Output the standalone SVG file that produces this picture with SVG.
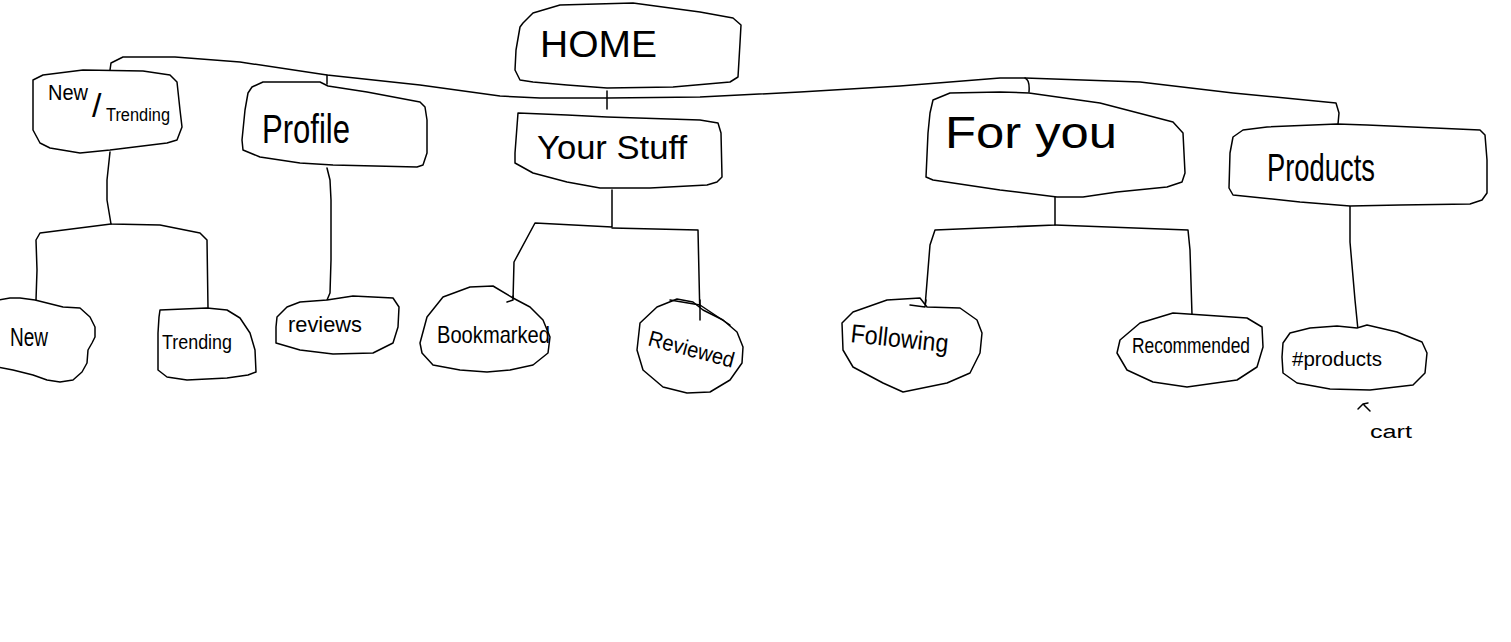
<svg xmlns="http://www.w3.org/2000/svg" width="1511" height="642" viewBox="0 0 1511 642">
<style>
.s{fill:none;stroke:#000;stroke-width:1.5;stroke-linejoin:round;stroke-linecap:round}
.b{fill:#fff;stroke:#000;stroke-width:1.5;stroke-linejoin:round}
.t{font-family:"Liberation Sans","DejaVu Sans",sans-serif;fill:#000;font-weight:normal}
</style>
<rect width="1511" height="642" fill="#fff"/>
<g id="connectors">
<path class="s" d="M110,70 L111,63 L123,57 L175,57 L240,62 L327,75 L420,85 L500,96 L540,98 L608,98 L700,97 L800,92 L900,86 L1000,78 L1025,78 Q1030,80 1029,92"/>
<path class="s" d="M1025,78 L1140,82 L1233,93 L1336,103 L1339,113 L1338,124"/>
<path class="s" d="M327,75 L327,84"/>
<path class="s" d="M607,91 L607,109"/>
<path class="s" d="M110,152 L107,180 L107,200 L111,224 L160,225 L200,233 L207,240 L208,308"/>
<path class="s" d="M111,224 L40,233 L36,240 L37,270 L36,300"/>
<path class="s" d="M327,168 L330,180 L331,200 L331,260 L330,293 L327,300"/>
<path class="s" d="M612,190 L612,227 L535,223 L514,262 L513,300"/>
<path class="s" d="M612,228 L698,230 L700,320"/>
<path class="s" d="M1055,197 L1055,225 L935,230 L930,245 L925,307"/>
<path class="s" d="M1055,225 L1188,230 L1190,250 L1192,315"/>
<path class="s" d="M1350,206 L1350,242 L1355,300 L1358,330"/>
</g>
<g id="home">
<path class="b" d="M523,23 L533,13 L560,5 L633,3 L700,12 L733,18 L741,25 L740,43 L738,77 L730,82 L673,87 L607,88 L567,85 L533,82 L520,80 L515,70 L516,50 L520,27 Z"/>
<text class="t" x="540" y="57" font-size="36" textLength="117" lengthAdjust="spacingAndGlyphs">HOME</text>
</g>
<g id="new-trending">
<path class="b" d="M33,80 L43,75 L83,70 L143,71 L170,75 L177,82 L180,110 L182,127 L177,140 L167,143 L110,150 L80,153 L50,148 L40,143 L33,130 L33,100 Z"/>
<text class="t"><tspan x="48" y="100" font-size="22" textLength="40" lengthAdjust="spacingAndGlyphs">New</tspan><tspan x="92" y="117" font-size="34">/</tspan><tspan x="106" y="121" font-size="18" textLength="64" lengthAdjust="spacingAndGlyphs">Trending</tspan></text>
</g>
<g id="profile">
<path class="b" d="M252,87 L263,82 L320,82 L328,86 L367,92 L420,102 L425,107 L427,120 L427,153 L423,165 L417,167 L333,165 L300,163 L260,157 L243,150 L242,140 L245,110 L248,93 Z"/>
<text class="t" x="262" y="143" font-size="40" textLength="88" lengthAdjust="spacingAndGlyphs">Profile</text>
</g>
<g id="your-stuff">
<path class="b" d="M518,113 L567,115 L607,117 L700,120 L718,123 L721,133 L722,177 L717,182 L707,185 L650,188 L600,188 L567,182 L533,173 L515,163 L515,153 Z"/>
<text class="t" x="537" y="159" font-size="34" textLength="150" lengthAdjust="spacingAndGlyphs">Your Stuff</text>
</g>
<g id="for-you">
<path class="b" d="M933,100 L950,93 L1000,92 L1029,93 L1100,103 L1173,122 L1183,133 L1185,173 L1182,182 L1167,187 L1117,192 L1083,197 L1057,197 L1017,192 L1000,190 L933,180 L926,177 L928,133 L930,113 Z"/>
<text class="t" x="945" y="148" font-size="44" textLength="172" lengthAdjust="spacingAndGlyphs">For you</text>
</g>
<g id="products">
<path class="b" d="M1233,137 L1243,130 L1267,127 L1337,124 L1367,125 L1480,130 L1485,135 L1487,160 L1487,193 L1482,200 L1470,204 L1400,205 L1350,206 L1300,202 L1233,195 L1229,188 L1230,153 Z"/>
<text class="t" x="1267" y="181" font-size="38" textLength="108" lengthAdjust="spacingAndGlyphs">Products</text>
</g>
<g id="new">
<path class="b" d="M-2,300 L10,298 L20,298 L35,300 L63,307 L80,308 L90,317 L95,327 L95,337 L92,343 L88,350 L87,363 L82,372 L73,380 L60,382 L47,380 L33,375 L13,370 L-2,367"/>
<text class="t" x="10" y="346" font-size="26" textLength="38" lengthAdjust="spacingAndGlyphs">New</text>
</g>
<g id="trending">
<path class="b" d="M160,310 L207,308 L227,310 L240,318 L250,333 L255,350 L256,372 L248,375 L227,378 L187,380 L167,377 L158,370 L158,333 L159,317 Z"/>
<text class="t" x="162" y="349" font-size="20" textLength="70" lengthAdjust="spacingAndGlyphs">Trending</text>
</g>
<g id="reviews">
<path class="b" d="M277,317 L287,307 L300,302 L327,300 L353,296 L393,298 L399,307 L398,327 L393,343 L373,353 L333,354 L300,350 L276,343 L276,327 Z"/>
<text class="t" x="288" y="332" font-size="22" textLength="74" lengthAdjust="spacingAndGlyphs">reviews</text>
</g>
<g id="bookmarked">
<path class="b" d="M420,343 L427,317 L443,297 L470,287 L493,286 L513,298 L530,307 L543,320 L550,337 L548,353 L533,365 L510,370 L487,372 L460,370 L433,365 L422,353 Z"/>
<path class="s" d="M507,302 L513,300 L513,296"/>
<text class="t" x="437" y="343" font-size="24" textLength="113" lengthAdjust="spacingAndGlyphs">Bookmarked</text>
</g>
<g id="reviewed">
<path class="b" d="M640,323 L657,307 L677,299 L693,302 L703,310 L723,320 L737,332 L743,347 L742,363 L730,380 L710,392 L687,393 L663,387 L643,370 L637,350 Z"/>
<path class="s" d="M670,300 L700,305 L730,325"/>
<path class="s" d="M700,300 L700,320"/>
<text class="t" x="647" y="345" font-size="22" textLength="88" lengthAdjust="spacingAndGlyphs" transform="rotate(15 647 345)">Reviewed</text>
</g>
<g id="following">
<path class="b" d="M842,323 L853,312 L887,300 L920,298 L927,307 L960,308 L977,320 L982,333 L980,353 L970,373 L947,383 L903,392 L883,383 L853,367 L843,350 Z"/>
<path class="s" d="M910,305 L925,307 L926,300"/>
<text class="t" x="850" y="342" font-size="26" textLength="98" lengthAdjust="spacingAndGlyphs" transform="rotate(6 850 342)">Following</text>
</g>
<g id="recommended">
<path class="b" d="M1120,340 L1140,323 L1173,313 L1203,315 L1247,318 L1262,327 L1263,347 L1257,367 L1237,380 L1187,387 L1153,382 L1127,370 L1117,353 Z"/>
<text class="t" x="1132" y="353" font-size="22" textLength="118" lengthAdjust="spacingAndGlyphs">Recommended</text>
</g>
<g id="hash-products">
<path class="b" d="M1283,343 L1290,333 L1310,328 L1337,326 L1357,328 L1367,325 L1397,332 L1422,342 L1427,353 L1425,373 L1413,385 L1370,390 L1330,389 L1297,383 L1283,373 L1282,357 Z"/>
<text class="t" x="1292" y="366" font-size="20" textLength="90" lengthAdjust="spacingAndGlyphs">#products</text>
</g>
<g id="cart">
<path class="s" d="M1358,409 L1363,404 L1368,403 M1364,405 L1370,411"/>
<text class="t" x="1370" y="438" font-size="18" textLength="42" lengthAdjust="spacingAndGlyphs">cart</text>
</g>
</svg>
